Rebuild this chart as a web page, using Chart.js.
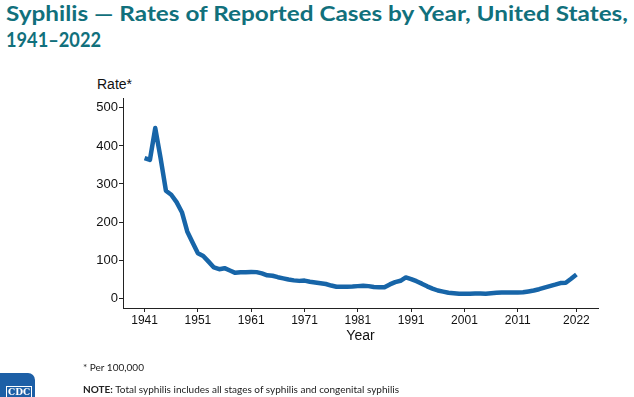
<!DOCTYPE html>
<html>
<head>
<meta charset="utf-8">
<title>Syphilis rates 1941-2022</title>
<script src="https://cdn.jsdelivr.net/npm/chart.js@4.4.1/dist/chart.umd.min.js"></script>
<style>
  html, body { margin: 0; padding: 0; background: #fff; }
  #wrap { position: relative; width: 634px; height: 397px; overflow: hidden; }
  #myChart { position: absolute; left: 0; top: 0; }
  .title {
    position: absolute; left: 6px; top: 0;
    font-family: Lato, sans-serif; font-weight: 700; font-size: 20px;
    line-height: 26px; color: #11707c; white-space: nowrap;
  }
  .fit { display: inline-block; transform-origin: 0 0; }
  .rate-label {
    position: absolute; left: 97px; top: 76px;
    font-family: "Liberation Sans", Arial, sans-serif; font-size: 14px; color: #111;
  }
  .note {
    position: absolute; left: 83px;
    font-family: Lato, sans-serif; font-size: 10px; line-height: 12px; color: #222;
    white-space: nowrap;
  }
  .cdc-logo {
    position: absolute; left: -10px; top: 373px; width: 45px; height: 40px;
    background: #1d5fa6; border-radius: 7px;
  }
  .cdc-logo span {
    position: absolute; left: 16px; top: 13px; padding: 0 1px;
    border: 1px solid #fff; color: #fff;
    font-family: "DejaVu Serif", serif; font-weight: 700; font-size: 9px; line-height: 10px;
  }
</style>
</head>
<body>
<div id="wrap">
  <div class="title">
    <span class="fit" id="titleLine1">Syphilis — Rates of Reported Cases by Year, United States,</span><br>
    <span class="fit" id="titleLine2">1941–2022</span>
  </div>
  <div class="rate-label">Rate*</div>
  <canvas id="myChart" width="634" height="397"></canvas>
  <div class="note" style="top:361px;"><span class="fit" id="note1">* Per 100,000</span></div>
  <div class="note" style="top:383px;"><span class="fit" id="note2"><b>NOTE:</b> Total syphilis includes all stages of syphilis and congenital syphilis</span></div>
  <div class="cdc-logo"><span>CDC</span></div>
</div>

<script>
// data
var years = [];
for (var y = 1941; y <= 2022; y++) years.push(y);

var rates = [
  368.2, 363.4, 447.0, 367.9, 282.3, 271.7, 252.3, 225.8, 175.3, 146.0, // 1941-1950
  118.2, 110.9, 95.9, 80.6, 76.0, 78.7, 72.7, 66.4, 68.2, 68.0,          // 1951-1960
  68.8, 68.3, 65.0, 60.0, 58.7, 55.0, 52.0, 49.0, 46.6, 45.3,            // 1961-1970
  46.0, 43.0, 41.0, 39.0, 37.0, 33.0, 29.7, 29.6, 30.0, 30.5,            // 1971-1980
  31.5, 32.5, 31.5, 29.0, 28.3, 28.6, 36.0, 42.0, 45.5, 54.3,            // 1981-1990
  50.0, 44.5, 38.0, 31.0, 25.0, 20.0, 17.0, 14.3, 13.0, 11.5,            // 1991-2000
  11.5, 11.7, 12.0, 11.8, 11.5, 12.5, 13.8, 15.0, 14.9, 14.7,            // 2001-2010
  14.7, 15.2, 17.5, 20.0, 23.4, 27.4, 31.5, 35.3, 39.5, 40.5,            // 2011-2020
  51.0, 62.0                                                              // 2021-2022
];

var yearTicks = [1941, 1951, 1961, 1971, 1981, 1991, 2001, 2011, 2022];
var rateTicks = [0, 100, 200, 300, 400, 500];

var points = years.map(function (yr, i) { return { x: yr, y: rates[i] }; });

// squeeze/stretch html text to the width it has in the picture
function fitWidth(id, w) {
  var el = document.getElementById(id);
  var s = w / el.getBoundingClientRect().width;
  el.style.transform = 'scaleX(' + s + ')';
}
fitWidth('titleLine1', 622);
fitWidth('titleLine2', 95);
fitWidth('note1', 61);
fitWidth('note2', 316);

var axisFont = { family: '"Liberation Sans", Arial, sans-serif' };

var config = {
  type: 'line',
  data: {
    datasets: [{
      data: points,
      borderColor: '#1765a8',
      borderWidth: 4.5,
      pointRadius: 0,
      tension: 0,
      borderJoinStyle: 'round',
      fill: false
    }]
  },
  options: {
    responsive: false,
    animation: false,
    devicePixelRatio: 1,
    layout: { padding: { top: 98, right: 36, left: 0, bottom: 52 } },
    plugins: {
      legend: { display: false },
      tooltip: { enabled: false }
    },
    scales: {
      x: {
        type: 'linear',
        min: 1936.95,
        max: 2026.05,
        afterBuildTicks: function (scale) {
          scale.ticks = yearTicks.map(function (v) { return { value: v }; });
        },
        afterFit: function (scale) { scale.height = 37; },
        ticks: {
          autoSkip: false,
          maxRotation: 0,
          padding: 1,
          color: '#111',
          font: { family: axisFont.family, size: 12 },
          callback: function (v) { return String(v); }
        },
        grid: { drawOnChartArea: false, drawTicks: true, tickLength: 4, color: '#222' },
        border: { display: true, color: '#222', width: 1 },
        title: {
          display: true,
          text: 'Year',
          color: '#111',
          padding: { top: 0, bottom: 0 },
          font: { family: axisFont.family, size: 14 }
        }
      },
      y: {
        min: -26,
        max: 526,
        afterBuildTicks: function (scale) {
          scale.ticks = rateTicks.map(function (v) { return { value: v }; });
        },
        afterFit: function (scale) { scale.width = 123; },
        ticks: {
          padding: 1,
          color: '#111',
          font: { family: axisFont.family, size: 13 }
        },
        grid: { drawOnChartArea: false, drawTicks: true, tickLength: 4, color: '#222' },
        border: { display: true, color: '#222', width: 1 }
      }
    }
  }
};

// Create the chart
var myChart = new Chart(document.getElementById('myChart'), config);
</script>
</body>
</html>
